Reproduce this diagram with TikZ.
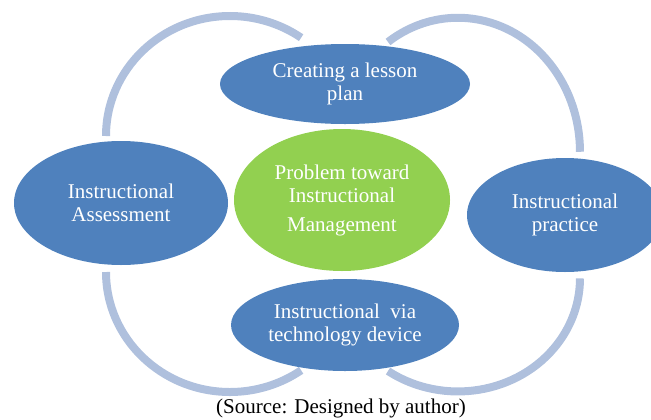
\documentclass[tikz,border=0pt]{standalone}
\usepackage{fontspec}
\setmainfont{Liberation Serif}
\usetikzlibrary{shapes.geometric}
\definecolor{topiccol}{HTML}{4F81BD}
\definecolor{corecol}{HTML}{92D050}
\definecolor{loopcol}{HTML}{AFC0DD}
\tikzset{
  topic/.style={ellipse,fill=topiccol,text=white,inner sep=0pt,align=center,font=\fontsize{10.5}{11.5}\selectfont},
  core/.style={topic,fill=corecol},
  loop/.style={draw=loopcol,line width=4pt},
}
\begin{document}
\begin{tikzpicture}[x=0.5pt,y=0.5pt]
  \useasboundingbox (0,0) rectangle (651,419);
  % outer arcs
  \draw[loop] (106,283) arc[start angle=180,end angle=55,x radius=62pt,y radius=60pt];
  \draw[loop] (388,377) arc[start angle=125,end angle=0,x radius=61pt,y radius=67pt];
  \draw[loop] (106,147) arc[start angle=180,end angle=305,x radius=62pt,y radius=60pt];
  \draw[loop] (388,48) arc[start angle=235,end angle=360,x radius=61pt,y radius=56.5pt];
  % topics
  \node[topic,minimum width=125pt,minimum height=40pt] (plan) at (345,335) {Creating a lesson\\plan};
  \node[topic,minimum width=107pt,minimum height=62pt] (assess) at (121,216) {Instructional\\Assessment};
  \node[topic,minimum width=98pt,minimum height=57pt] (practice) at (565,204) {Instructional\\practice};
  \node[topic,minimum width=114pt,minimum height=46pt] (device) at (345,94) {Instructional~~via\\technology device};
  % centre
  \node[core,minimum width=108pt,minimum height=71pt] (problem) at (342,219) {Problem toward\\Instructional\\[3pt]Management};
  % caption
  \node[font=\fontsize{10.5}{11.5}\selectfont] (source) at (341,11) {(Source: Designed by author)};
\end{tikzpicture}
\end{document}
